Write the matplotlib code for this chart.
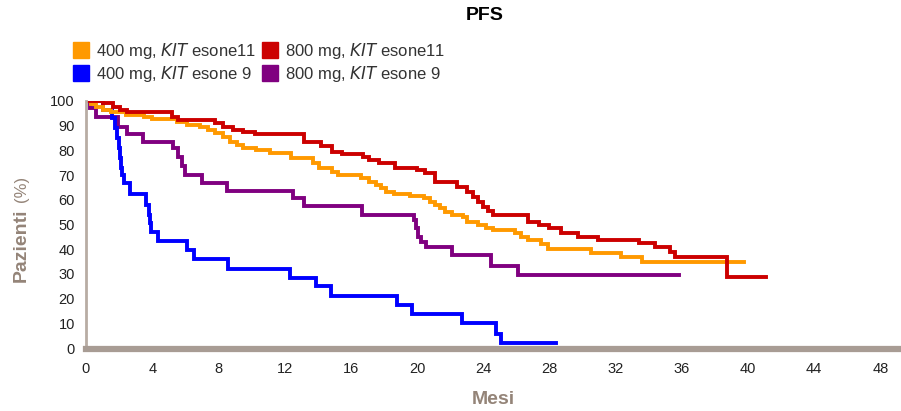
import matplotlib
matplotlib.use("Agg")
import matplotlib.pyplot as plt
from matplotlib.lines import Line2D

plt.rcParams['font.family'] = ['Liberation Sans', 'DejaVu Sans']

# 400 mg, KIT esone 11 (orange)
t_400_e11 = [0, 0.3, 0.6, 1.0, 1.5, 2.4, 3.5, 4.0, 5.5, 6.1, 6.9, 7.4, 7.8, 8.3, 8.7, 9.1,
             9.5, 10.3, 11.1, 12.4, 13.7, 14.1, 14.85, 15.25, 16.6, 17.1, 17.5, 17.8, 18.1,
             18.6, 19.6, 20.4, 20.8, 21.1, 21.4, 21.7, 22.1, 22.8, 23.0, 23.7, 24.2, 24.6,
             25.9, 26.3, 26.7, 27.5, 27.9, 30.5, 32.3, 33.6, 39.75]
s_400_e11 = [100, 98.8, 97.7, 96.4, 95.4, 94.3, 93.6, 92.7, 91.6, 90.3, 89.6, 88.3, 86.9, 85.6,
             83.5, 82.2, 80.8, 80.2, 78.8, 76.8, 74.8, 72.7, 71.4, 70.0, 68.7, 67.3, 66.0,
             64.7, 63.3, 62.3, 61.5, 60.6, 59.3, 57.9, 56.6, 55.2, 53.8, 53.2, 51.1, 49.8,
             48.5, 47.8, 46.4, 45.0, 43.7, 42.0, 40.2, 38.6, 37.0, 35.0, 35.0]

# 800 mg, KIT esone 11 (red)
t_800_e11 = [0, 1.05, 1.65, 2.05, 2.46, 5.18, 5.55, 7.8, 8.3, 8.9, 9.5, 10.2, 13.2, 14.2,
             14.85, 15.45, 16.75, 17.1, 17.7, 18.7, 20.0, 20.5, 21.1, 22.4, 23.0, 23.4, 23.7,
             24.0, 24.3, 24.6, 26.7, 27.4, 28.0, 28.7, 29.75, 30.95, 33.4, 34.4, 35.3, 35.6,
             38.75, 41.1]
s_800_e11 = [100, 99.0, 97.7, 96.4, 95.4, 93.6, 92.3, 91.0, 89.6, 88.3, 87.6, 86.5, 83.5, 81.8,
             79.5, 78.5, 77.5, 76.1, 74.8, 72.7, 72.0, 71.0, 67.3, 65.3, 63.3, 61.0, 59.0,
             57.0, 55.5, 53.8, 51.1, 49.8, 48.5, 46.4, 45.0, 43.7, 42.4, 40.8, 39.0, 36.7,
             28.6, 28.6]

# 400 mg, KIT esone 9 (blue)
t_400_e9 = [0, 1.0, 1.55, 1.75, 1.9, 2.0, 2.05, 2.1, 2.15, 2.3, 2.65, 3.6, 3.8, 3.85, 3.95,
            4.35, 6.1, 6.5, 8.6, 12.3, 13.9, 14.8, 18.8, 19.7, 22.7, 24.8, 25.1, 28.4]
s_400_e9 = [100, 96.5, 93.0, 89.0, 85.0, 81.0, 77.0, 73.0, 70.0, 66.7, 62.5, 58.0, 54.0, 50.5,
            47.0, 43.5, 39.7, 36.0, 32.0, 28.5, 25.0, 21.0, 17.4, 13.8, 10.0, 5.8, 2.2, 2.2]

# 800 mg, KIT esone 9 (purple)
t_800_e9 = [0, 0.25, 0.6, 1.95, 2.45, 3.45, 5.28, 5.55, 5.8, 6.0, 7.0, 8.5, 12.5, 13.2, 16.7,
            19.8, 19.95, 20.05, 20.25, 20.55, 22.1, 24.5, 26.1, 35.85]
s_800_e9 = [100, 97.0, 93.6, 89.6, 86.5, 83.5, 80.8, 77.5, 73.5, 70.0, 66.7, 63.6, 60.6, 57.5,
            53.8, 51.8, 48.5, 45.0, 43.0, 41.0, 37.6, 33.3, 29.6, 29.6]

labels = [r"400 mg, $\it{KIT}$ esone11", r"800 mg, $\it{KIT}$ esone11",
          r"400 mg, $\it{KIT}$ esone 9", r"800 mg, $\it{KIT}$ esone 9"]
colors = ["#FF9900", "#CC0000", "#0000FF", "#800080"]

x_ticks = list(range(0, 49, 4))
y_ticks = list(range(0, 101, 10))

fig = plt.figure(figsize=(9.01, 4.11), dpi=100)
ax = fig.add_axes([86 / 901, 63 / 411, 815 / 901, 247 / 411])

series = [(t_400_e11, s_400_e11), (t_800_e11, s_800_e11),
          (t_400_e9, s_400_e9), (t_800_e9, s_800_e9)]
# draw order: purple, blue, orange, red on top
for i in [3, 2, 0, 1]:
    t, s = series[i]
    ax.step(t, s, where="post", color=colors[i], lw=2.8, solid_joinstyle="miter")

ax.set_xlim(0, 49.25)
ax.set_ylim(0, 100)
ax.set_xticks(x_ticks)
ax.set_yticks(y_ticks)
ax.tick_params(length=0, labelsize=10.5, colors="#222222")
ax.tick_params(axis="x", pad=9)
ax.tick_params(axis="y", pad=8)

for side in ["top", "right"]:
    ax.spines[side].set_visible(False)
ax.spines["left"].set_color("#b8aca4")
ax.spines["left"].set_linewidth(2)
ax.spines["bottom"].set_color("#a89c94")
ax.spines["bottom"].set_linewidth(4.5)
ax.spines["bottom"].set_position(("outward", 1))

# axis titles
fig.text(493 / 901, 1 - 399 / 411, "Mesi", fontsize=14, fontweight="bold", color="#948478",
         ha="center", va="center")
fig.text(21 / 901, 1 - 245 / 411, "Pazienti", rotation=90, fontsize=14, fontweight="bold",
         color="#948478", ha="center", va="center")
fig.text(22 / 901, 1 - 189 / 411, "(%)", rotation=90, fontsize=12, color="#948478",
         ha="center", va="center")

fig.text(485 / 901, 1 - 16 / 411, "PFS", fontsize=14, fontweight="bold", ha="center", va="center")

handles = [Line2D([], [], ls="none", marker="s", markersize=11, color=colors[i]) for i in [0, 2, 1, 3]]
hl = [labels[i] for i in [0, 2, 1, 3]]
fig.legend(handles, hl, ncol=2, loc="upper left", bbox_to_anchor=(0.073, 0.92),
           frameon=False, fontsize=12, handlelength=0.8, handletextpad=0.5,
           columnspacing=0.45, labelspacing=0.15, borderpad=0, labelcolor="#333333")

fig.savefig("out.png", dpi=100)
